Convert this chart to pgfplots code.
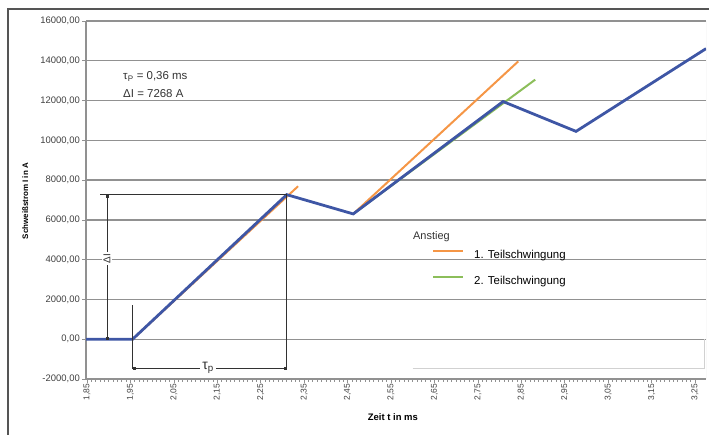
\documentclass[border=0pt]{standalone}
\usepackage{fontspec}
\setmainfont{Liberation Sans}
\usepackage{pgfplots}
\pgfplotsset{compat=1.18}
\usetikzlibrary{arrows.meta}
\definecolor{cblue}{RGB}{62,86,165}
\definecolor{corange}{RGB}{245,150,70}
\definecolor{cgreen}{RGB}{140,190,90}
\definecolor{cgrid}{RGB}{145,145,145}
\definecolor{cframe}{RGB}{85,85,85}
\definecolor{cannot}{RGB}{50,50,50}
\begin{document}
\begin{tikzpicture}
\path (0bp,0bp) rectangle (709bp,435bp);
\draw[line width=1.6bp, cframe] (8bp,-5bp) -- (8bp,426bp) -- (715bp,426bp);
\begin{axis}[
  at={(86bp,56bp)}, anchor=south west, scale only axis,
  width=620bp, height=358bp,
  xmin=1.8477, xmax=3.2753, ymin=-2000, ymax=16000,
  scaled y ticks=false, scaled x ticks=false,
  xtick={1.85,1.95,2.05,2.15,2.25,2.35,2.45,2.55,2.65,2.75,2.85,2.95,3.05,3.15,3.25},
  xticklabels={{1,85},{1,95},{2,05},{2,15},{2,25},{2,35},{2,45},{2,55},{2,65},{2,75},{2,85},{2,95},{3,05},{3,15},{3,25}},
  minor x tick num=9,
  ytick={-2000,0,2000,4000,6000,8000,10000,12000,14000,16000},
  yticklabels={{-2000,00},{0,00},{2000,00},{4000,00},{6000,00},{8000,00},{10000,00},{12000,00},{14000,00},{16000,00}},
  ymajorgrids, grid style={cgrid, line width=1.3bp},
  axis x line*=bottom, axis y line*=left,
  axis line style={cgrid, line width=1.3bp},
  tick align=outside, major tick length=4bp, minor tick length=3bp,
  tick style={cgrid, line width=0.7bp},
  xticklabel style={rotate=90, anchor=east, inner sep=1bp, font=\fontsize{8.5}{9}\selectfont, text=black!75},
  yticklabel style={inner sep=2bp, font=\fontsize{9.5}{10}\selectfont, text=black!75},
  xlabel={Zeit t in ms},
  xlabel style={at={(axis description cs:0.495,-0.106)}, anchor=center, font=\bfseries\fontsize{9.5}{10}\selectfont},
  ylabel={Schweißstrom I in A},
  ylabel style={at={(axis description cs:-0.098,0.497)}, anchor=center, font=\bfseries\fontsize{8}{9}\selectfont},
  legend style={at={(axis description cs:0.558,0.310)}, anchor=west, draw=none, fill=none,
    inner sep=0pt, font=\fontsize{11.5}{13}\selectfont, row sep=16bp,
    nodes={inner sep=0pt}, /tikz/every odd column/.append style={column sep=10bp}},
  legend cell align=left,
  legend image code/.code={\draw[#1] (0bp,4bp) -- (30bp,4bp);},
]
\addplot[corange, line width=2bp] coordinates {(1.955,0) (2.336,7690)};
\addlegendentry{1. Teilschwingung}
\addplot[corange, line width=2bp, forget plot] coordinates {(2.463,6300) (2.843,13970)};
\addplot[cgreen, line width=2bp] coordinates {(2.463,6300) (2.882,13050)};
\addlegendentry{2. Teilschwingung}
\addplot[cblue, line width=2.8bp, forget plot] coordinates {
  (1.8477,0) (1.955,0) (2.31,7268) (2.463,6300) (2.808,11950) (2.976,10450) (3.2753,14610)};

% annotations
\draw[cannot, line width=0.7bp] (axis cs:1.880,7268) -- (axis cs:2.31,7268);
\draw[cannot, line width=0.7bp] (axis cs:2.31,7268) -- (axis cs:2.31,-1450);
\draw[cannot, line width=0.7bp] (axis cs:1.955,1700) -- (axis cs:1.955,-1500);
\draw[cannot, line width=0.7bp, {Square[length=2.6bp]}-{Square[length=2.6bp]}] (axis cs:1.896,7268) -- (axis cs:1.896,0);
\node[fill=white, rotate=90, inner sep=1.5bp, font=\fontsize{10}{12}\selectfont, text=cannot] at (axis cs:1.896,4050) {ΔI};
\draw[cannot, line width=0.7bp, {Square[length=2.6bp]}-{Square[length=2.6bp]}] (axis cs:1.955,-1450) -- (axis cs:2.31,-1450);
\node[fill=white, inner sep=2bp, font=\fontsize{14}{15}\selectfont, text=cannot] at (axis cs:2.129,-1450) {τ\textsubscript{p}};
\draw[black!18, line width=0.6bp] (axis cs:2.60,-1450) -- (axis cs:3.272,-1450) -- (axis cs:3.272,0);
\draw[black!20, line width=0.6bp] (rel axis cs:1,0) -- (rel axis cs:1,1);

\node[anchor=west, inner sep=0pt, font=\fontsize{11.5}{13}\selectfont, text=black!80] at (axis cs:1.933,13200) {τ\textsubscript{P} = 0,36 ms};
\node[anchor=west, inner sep=0pt, font=\fontsize{11.5}{13}\selectfont, text=black!80] at (axis cs:1.933,12350) {ΔI = 7268 A};
\node[anchor=west, inner sep=0pt, font=\fontsize{11}{12}\selectfont, text=black!80] at (axis cs:2.6006,5139) {Anstieg};
\end{axis}
\pgfresetboundingbox
\useasboundingbox (0bp,0bp) rectangle (709bp,435bp);
\end{tikzpicture}
\end{document}
